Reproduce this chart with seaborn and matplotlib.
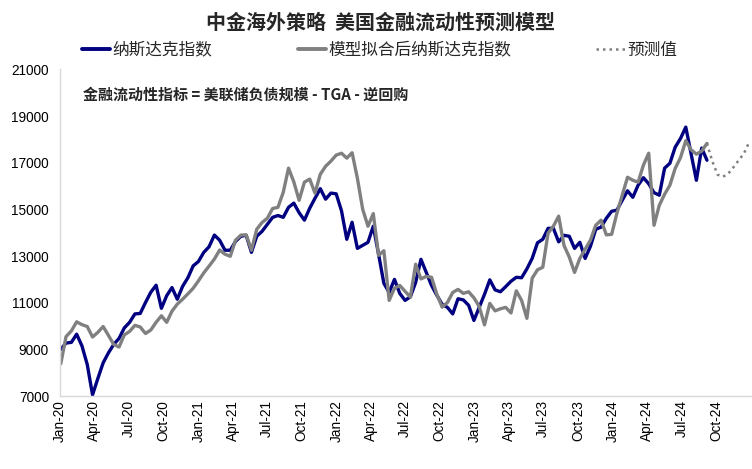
import matplotlib
matplotlib.use('Agg')
import matplotlib.pyplot as plt
import seaborn as sns
import pandas as pd
from matplotlib.lines import Line2D

# ---------------- data (bi-weekly Fridays) ----------------
series_start = '2020-01-03'
forecast_start = '2024-09-06'
step = '14D'

nasdaq = [9000, 9270, 9300, 9650, 9150, 8350, 7050, 7750, 8420, 8850,
          9210, 9470, 9920, 10160, 10520, 10540, 11010, 11450, 11750, 10760,
          11300, 11650, 11150, 11700, 12070, 12580, 12770, 13160, 13400, 13900,
          13680, 13250, 13250, 13630, 13850, 13890, 13160, 13850, 14060, 14360,
          14660, 14740, 14660, 15090, 15270, 14860, 14540, 15050, 15480, 15890,
          15440, 15700, 15670, 14940, 13720, 14450, 13330, 13460, 13590, 14280,
          13080, 11830, 11440, 12000, 11400, 11100, 11250, 11870, 12860, 12300,
          11740, 11320, 10930, 10800, 10520, 11170, 11120, 10890, 10240, 10800,
          11360, 11980, 11550, 11470, 11690, 11920, 12090, 12070, 12450, 12900,
          13570, 13720, 14190, 14190, 13610, 13890, 13850, 13330, 13590, 12900,
          13420, 14150, 14240, 14620, 14920, 14970, 15390, 15800, 15520, 16040,
          16360, 16100, 15720, 15610, 16770, 16980, 17670, 18040, 18530, 17390,
          16250, 17630, 17110]

model_fit = [8380, 9550, 9790, 10180, 10060, 9980, 9530, 9730, 9980, 9600,
             9210, 9100, 9620, 9770, 10030, 9960, 9680, 9830, 10160, 10440,
             10160, 10640, 10940, 11150, 11380, 11620, 11940, 12280, 12570, 12870,
             13260, 13080, 12990, 13680, 13900, 13910, 13250, 14150, 14440, 14620,
             15040, 15090, 15730, 16770, 16180, 15390, 16170, 16300, 15700, 16510,
             16850, 17070, 17330, 17410, 17200, 17430, 16340, 15010, 14280, 14820,
             13030, 13230, 11100, 11620, 11740, 11490, 11240, 12650, 12020, 12130,
             12090, 11360, 10810, 11010, 11440, 11570, 11400, 11470, 11210, 10840,
             10050, 10970, 10650, 10740, 10800, 10560, 11510, 11100, 10330, 12050,
             12410, 12520, 13980, 14280, 14710, 13460, 12960, 12300, 12900, 13290,
             13680, 14320, 14540, 13910, 13930, 14840, 15610, 16380, 16250, 16170,
             16900, 17410, 14320, 15180, 15650, 16040, 16760, 17220, 17950, 17560,
             17370, 17500, 17830]

forecast = [17830, 17070, 16490, 16400, 16530, 16810, 17110, 17410, 17900]

tick_labels = ['Jan-20', 'Apr-20', 'Jul-20', 'Oct-20', 'Jan-21', 'Apr-21', 'Jul-21',
               'Oct-21', 'Jan-22', 'Apr-22', 'Jul-22', 'Oct-22', 'Jan-23', 'Apr-23',
               'Jul-23', 'Oct-23', 'Jan-24', 'Apr-24', 'Jul-24', 'Oct-24']
y_ticks = [7000, 9000, 11000, 13000, 15000, 17000, 19000, 21000]

legend_labels = ['纳斯达克指数', '模型拟合后纳斯达克指数', '预测值']
title = '中金海外策略  美国金融流动性预测模型'
note = '金融流动性指标 = 美联储负债规模 - TGA - 逆回购'

# ---------------- frames ----------------
dates = pd.date_range(series_start, periods=len(nasdaq), freq=step)
df_nq = pd.DataFrame({'date': dates, 'value': nasdaq})
df_fit = pd.DataFrame({'date': dates, 'value': model_fit})
df_fc = pd.DataFrame({'date': pd.date_range(forecast_start, periods=len(forecast), freq=step),
                      'value': forecast})
tick_dates = pd.date_range('2020-01-01', periods=len(tick_labels), freq='QS')

# ---------------- style ----------------
sns.set_theme(style='white')
cjk = ['Noto Sans CJK SC', 'DejaVu Sans']
plt.rcParams['font.family'] = cjk
plt.rcParams['axes.unicode_minus'] = False

NAVY = '#000080'
GREY = '#808080'

W, H = 752, 469
fig = plt.figure(figsize=(W / 100, H / 100), dpi=100)
fig.patch.set_facecolor('white')
ax = fig.add_axes([60 / W, 1 - 396 / H, 692 / W, (396 - 69.5) / H])

sns.lineplot(data=df_nq, x='date', y='value', ax=ax, color=NAVY, linewidth=2.4)
sns.lineplot(data=df_fit, x='date', y='value', ax=ax, color=GREY, linewidth=2.4)
sns.lineplot(data=df_fc, x='date', y='value', ax=ax, color=GREY, linewidth=1.8,
             linestyle=(0, (1, 1.6)))

ax.set_xlim(pd.Timestamp('2020-01-01'), pd.Timestamp('2025-01-03'))
ax.set_ylim(7000, 21000)
ax.set_yticks(y_ticks)
ax.set_yticklabels([str(v) for v in y_ticks])
ax.set_xticks(tick_dates)
ax.set_xticklabels(tick_labels, rotation=90)
ax.set_xlabel('')
ax.set_ylabel('')
ax.grid(False)

for s in ['top', 'right']:
    ax.spines[s].set_visible(False)
for s in ['left', 'bottom']:
    ax.spines[s].set_color('#d9d9d9')
    ax.spines[s].set_linewidth(1.0)

ax.tick_params(axis='both', length=0, labelsize=9.8, colors='black')
ax.tick_params(axis='y', pad=8)
ax.tick_params(axis='x', pad=3)
for lab in ax.get_xticklabels() + ax.get_yticklabels():
    lab.set_fontfamily(['Liberation Sans', 'DejaVu Sans'])

handles = [Line2D([], [], color=NAVY, linewidth=2.8),
           Line2D([], [], color=GREY, linewidth=2.8),
           Line2D([], [], color=GREY, linewidth=1.8, linestyle=(0, (1, 1.6)))]
fig.legend(handles, legend_labels, loc='center left',
           bbox_to_anchor=(82 / W, 1 - 50 / H), ncol=3, frameon=False,
           prop={'family': cjk, 'size': 12}, handlelength=1.7,
           handletextpad=0.15, columnspacing=5.1, borderpad=0, borderaxespad=0)

fig.text(380 / W, 1 - 22 / H, title, ha='center', va='center',
         fontsize=14.4, fontweight='bold', family=cjk)
fig.text(83 / W, 1 - 95 / H, note, ha='left', va='center',
         fontsize=10.8, fontweight='bold', fontstyle='italic', family=cjk)

fig.savefig('out.png', dpi=100, facecolor='white')
